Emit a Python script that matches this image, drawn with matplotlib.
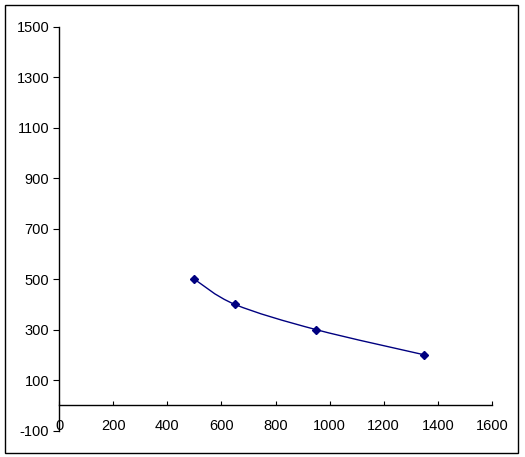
import numpy as np
import matplotlib
matplotlib.use('Agg')
from matplotlib import pyplot as plt
from matplotlib.path import Path
from matplotlib.patches import PathPatch, Rectangle

plt.rcParams['font.family'] = ['Liberation Sans', 'DejaVu Sans']
plt.rcParams['axes.unicode_minus'] = False

# Data points
x_vals = [500, 650, 950, 1350]
y_vals = [500, 400, 300, 200]
x_ticks = [0, 200, 400, 600, 800, 1000, 1200, 1400, 1600]
y_ticks = [-100, 100, 300, 500, 700, 900, 1100, 1300, 1500]

fig = plt.figure(figsize=(5.25, 4.57), dpi=100)
ax = fig.add_axes([59 / 525, 1 - 430.5 / 457, 433 / 525, 403.5 / 457])

# Excel-style smoothed line: cubic Bezier segments through the points
pts = np.column_stack([x_vals, y_vals]).astype(float)
verts = [tuple(pts[0])]
codes = [Path.MOVETO]
n = len(pts)
for i in range(n - 1):
    p0 = pts[i - 1] if i > 0 else pts[i]
    p1 = pts[i]
    p2 = pts[i + 1]
    p3 = pts[i + 2] if i + 2 < n else pts[i + 1]
    c1 = p1 + (p2 - p0) / 6
    c2 = p2 - (p3 - p1) / 6
    verts += [tuple(c1), tuple(c2), tuple(p2)]
    codes += [Path.CURVE4] * 3
ax.add_patch(PathPatch(Path(verts, codes), facecolor='none',
                       edgecolor='#000080', lw=1.0))
ax.plot(x_vals, y_vals, linestyle='none', marker='D', markersize=4,
        color='#000080')

ax.set_xlim(0, 1600)
ax.set_ylim(-100, 1500)
ax.set_xticks(x_ticks)
ax.set_yticks(y_ticks)
ax.spines['top'].set_visible(False)
ax.spines['right'].set_visible(False)
ax.spines['bottom'].set_position(('data', 0))
ax.spines['bottom'].set_bounds(0, 1600)
for s in ('left', 'bottom'):
    ax.spines[s].set_linewidth(1.0)
    ax.spines[s].set_color('black')
ax.tick_params(axis='x', direction='in', length=3, pad=10, labelsize=10.5)
ax.tick_params(axis='y', direction='out', length=4, pad=3, labelsize=10.5)

# outer chart border
fig.patches.append(Rectangle((5 / 525, 1 - 453 / 457), 513 / 525, 448 / 457,
                             transform=fig.transFigure, fill=False,
                             edgecolor='black', lw=1.0))

plt.savefig('out.png')
